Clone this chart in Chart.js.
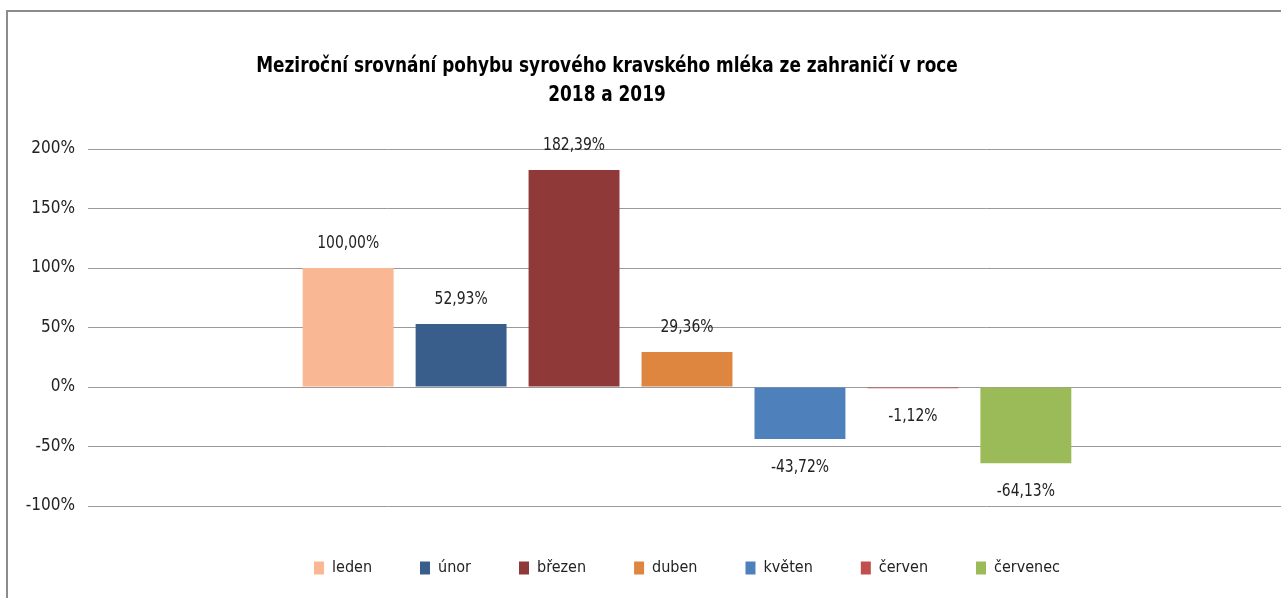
<!DOCTYPE html>
<html>
<head>
<meta charset="utf-8">
<script src="https://cdn.jsdelivr.net/npm/chart.js@4.4.1/dist/chart.umd.min.js"></script>
<style>
  html, body { margin: 0; padding: 0; background: #fff; overflow: hidden; }
  #wrap { position: relative; width: 1281px; height: 598px; overflow: hidden; }
  #frame {
    position: absolute; left: 6px; top: 10px; width: 1400px; height: 700px;
    border-left: 2px solid #8c8c8c; border-top: 2px solid #8c8c8c;
  }
  #chart { position: absolute; left: 0; top: 0; }
</style>
</head>
<body>
<div id="wrap">
  <div id="frame"></div>
  <canvas id="chart" width="1374" height="598"></canvas>
</div>
<script>
// ── data ------------------------------------------------------------------
const titleLines = [
  'Meziroční srovnání pohybu syrového kravského mléka ze zahraničí v roce',
  '2018 a 2019'
];
const months = ['leden', 'únor', 'březen', 'duben', 'květen', 'červen', 'červenec'];
const changes = [100.00, 52.93, 182.39, 29.36, -43.72, -1.12, -64.13];
const colors = ['#FAB793', '#3A5E8C', '#8F3A38', '#DE8640', '#4E80BC', '#C0504D', '#9BBB59'];
const yTicks = [-100, -50, 0, 50, 100, 150, 200];

const FONT = '"Liberation Sans Narrow", "DejaVu Sans Condensed", "Noto Sans", sans-serif';

const fmtPct = v => v.toFixed(2).replace('.', ',') + '%';

// narrow text: the reference uses a condensed face, so squeeze horizontally
function narrowText(ctx, text, x, y, sx) {
  ctx.save();
  ctx.translate(x, y);
  ctx.scale(sx, 1);
  ctx.fillText(text, 0, 0);
  ctx.restore();
}

// title drawn at a fixed centre (Excel centres it over a narrower box)
const titlePlugin = {
  id: 'excelTitle',
  afterDraw(chart) {
    const ctx = chart.ctx;
    ctx.save();
    ctx.font = 'bold 22px ' + FONT;
    ctx.fillStyle = '#000';
    ctx.textAlign = 'center';
    ctx.textBaseline = 'middle';
    narrowText(ctx, titleLines[0], 607, 66, 0.855);
    narrowText(ctx, titleLines[1], 607, 95, 0.855);
    ctx.restore();
  }
};

// value labels above / below each bar
const valueLabels = {
  id: 'valueLabels',
  afterDatasetsDraw(chart) {
    const ctx = chart.ctx;
    ctx.save();
    ctx.font = '18px ' + FONT;
    ctx.fillStyle = '#222';
    ctx.textAlign = 'center';
    ctx.textBaseline = 'middle';
    chart.data.datasets.forEach((ds, i) => {
      const bar = chart.getDatasetMeta(i).data[0];
      const v = ds.data[0];
      const y = v >= 0 ? bar.y - 25 : bar.y + 28;
      narrowText(ctx, fmtPct(v), bar.x, y, 0.86);
    });
    ctx.restore();
  }
};

// nudge the legend row down a bit to sit where Excel put it
const legendNudge = {
  id: 'legendNudge',
  afterLayout(chart) {
    chart.legend.top += 6;
    chart.legend.bottom += 6;
  }
};

function drawChart() {
  const ctx = document.getElementById('chart').getContext('2d');

  new Chart(ctx, {
    type: 'bar',
    data: {
      labels: [''],
      datasets: months.map((m, i) => ({
        label: m,
        data: [changes[i]],
        backgroundColor: colors[i],
        borderWidth: 0,
        categoryPercentage: 0.66,
        barPercentage: 0.805
      }))
    },
    options: {
      responsive: false,
      animation: false,
      layout: { padding: { top: 149, right: 88, bottom: 18, left: 0 } },
      plugins: {
        title: { display: false },
        tooltip: { enabled: false },
        legend: {
          position: 'bottom',
          fullSize: false,
          labels: {
            font: { family: FONT, size: 16 },
            color: '#222',
            boxWidth: 10,
            boxHeight: 13,
            padding: 48
          }
        }
      },
      scales: {
        x: { display: false },
        y: {
          min: -100,
          max: 200,
          afterFit: s => { s.width = 88; },
          afterBuildTicks: s => { s.ticks = yTicks.map(v => ({ value: v })); },
          border: { display: false },
          grid: { color: '#9a9a9a', lineWidth: 1, drawTicks: false },
          ticks: {
            padding: 13,
            color: '#222',
            font: { family: FONT, size: 17 },
            callback: v => v + '%'
          }
        }
      }
    },
    plugins: [titlePlugin, valueLabels, legendNudge]
  });
}

window.addEventListener('DOMContentLoaded', () => {
  drawChart();
});
</script>
</body>
</html>
